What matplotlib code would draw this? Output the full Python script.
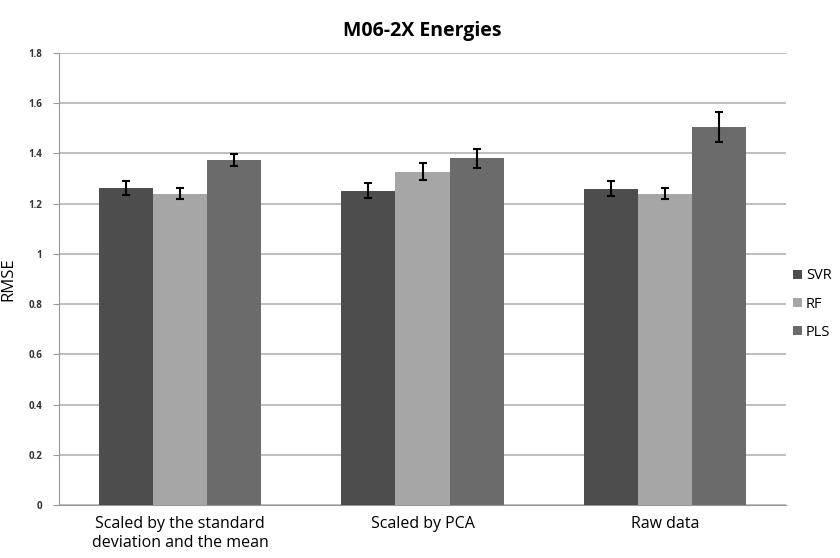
import matplotlib.pyplot as plt
import numpy as np

plt.rcParams['font.family'] = ['Open Sans', 'DejaVu Sans']

categories = ['Scaled by the standard\ndeviation and the mean', 'Scaled by PCA', 'Raw data']
series = ['SVR', 'RF', 'PLS']
svr = [1.263, 1.252, 1.260]
rf = [1.239, 1.327, 1.240]
pls = [1.374, 1.380, 1.505]
svr_err = [0.028, 0.030, 0.029]
rf_err = [0.022, 0.034, 0.022]
pls_err = [0.024, 0.038, 0.061]

colors = ['#4d4d4d', '#a6a6a6', '#6b6b6b']

fig = plt.figure(figsize=(8.4, 5.58), dpi=100)
ax = fig.add_axes([0.070, 0.095, 0.866, 0.810])

x = np.arange(len(categories))
width = 0.223
values = [svr, rf, pls]
errors = [svr_err, rf_err, pls_err]
for i, (vals, errs) in enumerate(zip(values, errors)):
    ax.bar(x + (i - 1) * width, vals, width, color=colors[i], label=series[i],
           yerr=errs, capsize=3, zorder=3,
           error_kw=dict(ecolor='black', elinewidth=1.5, capthick=1.5))

ax.set_xlim(-0.5, 2.5)
ax.set_ylim(0, 1.8)
ax.set_yticks(np.arange(0, 1.81, 0.2))
ax.set_yticklabels(['0', '0.2', '0.4', '0.6', '0.8', '1', '1.2', '1.4', '1.6', '1.8'],
                   fontsize=7, fontweight='bold', color='#333333')
ax.set_xticks(x)
ax.set_xticklabels(categories, fontsize=11.5, linespacing=1.25)
ax.tick_params(axis='x', length=0, pad=8)
ax.tick_params(axis='y', length=4, color='#999999', pad=8)
ax.grid(axis='y', color='#b3b3b3', linewidth=1.2, zorder=0)
for side in ['top', 'right']:
    ax.spines[side].set_visible(False)
ax.spines['left'].set_color('#999999')
ax.spines['bottom'].set_color('#999999')

ax.set_ylabel('RMSE', fontsize=12)
ax.yaxis.set_label_coords(-0.058, 0.5)
ax.set_title('M06-2X Energies', fontsize=14, fontweight='bold', pad=12)

fig.legend(loc='center left', bbox_to_anchor=(0.944, 0.455), frameon=False,
           fontsize=10.5, handlelength=0.6, handleheight=0.6, handletextpad=0.3,
           labelspacing=0.9, borderpad=0, borderaxespad=0)

fig.savefig('out.png', dpi=100)
